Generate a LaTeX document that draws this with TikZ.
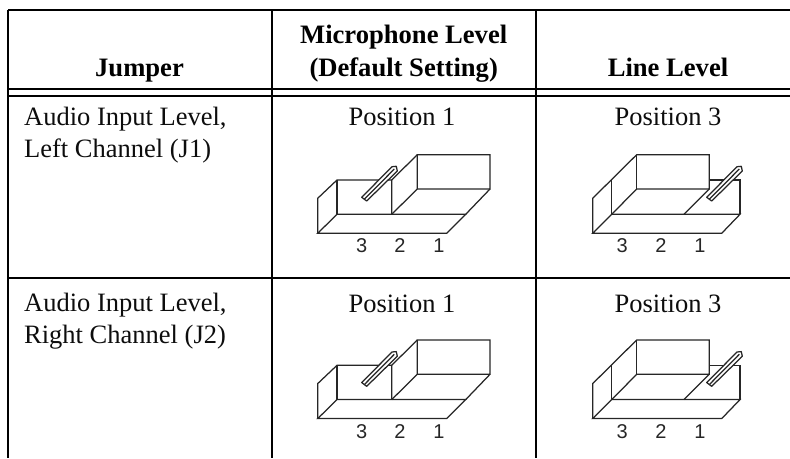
\documentclass[tikz,border=0pt]{standalone}
\usepackage{fontspec}
\setmainfont{Liberation Serif}
\newfontfamily\digitfont{Liberation Sans}
\tikzset{
  rule/.style={line width=2.2pt,black},
  fig/.style={line width=1.25pt,draw=black!85,line join=miter},
  pinbody/.style={line width=1.25pt,draw=black!85,fill=white,line join=round},
  txt/.style={inner sep=0pt,font=\fontsize{26.5}{30}\selectfont,anchor=base,text=black!95},
  head/.style={txt,font=\fontsize{26.6}{30}\selectfont\bfseries,text=black},
  txtl/.style={txt,anchor=base west},
  num/.style={inner sep=0pt,anchor=base,font=\fontsize{20}{24}\digitfont,text=black!85}
}
\newcommand{\pinshape}{%
  \draw[pinbody] (361.7,197.3) -- (392,166.7) -- (396.3,166.3) -- (397.3,171) -- (366.7,201) -- cycle;
  \draw[fig] (364.3,199.3) -- (394.3,169);
}
\newcommand{\figA}[1]{%
\begin{scope}[yshift=#1]
  \draw[fig] (317.7,233.3) -- (446.7,233.3) -- (465.7,214.3) -- (337,214.3) -- cycle;
  \draw[fig] (317.7,233.3) -- (317.7,198.3) -- (337,180) -- (391.7,180) -- (391.7,214.3);
  \draw[fig] (337,180) -- (337,214.3);
  \draw[fig] (391.7,214.3) -- (417.3,189) -- (490,189) -- (490,154.7) -- (417.3,154.7) -- (417.3,189);
  \draw[fig] (391.7,180) -- (417.3,154.7);
  \draw[fig] (465.7,214.3) -- (490,189);
  \pinshape
\end{scope}}
\newcommand{\figB}[1]{%
\begin{scope}[yshift=#1]
  \draw[fig] (592.7,233.3) -- (721.7,233.3) -- (740,214.3) -- (611.7,214.3) -- cycle;
  \draw[fig] (592.7,233.3) -- (592.7,198.3) -- (636.7,154.7) -- (709.3,154.7) -- (709.3,189) -- (636.7,189) -- (611.7,214.3);
  \draw[fig] (611.7,180) -- (611.7,214.3);
  \draw[fig] (636.7,154.7) -- (636.7,189);
  \draw[fig] (684,214.3) -- (709.3,189);
  \draw[fig] (709.3,180) -- (740,180) -- (740,214.3);
  \begin{scope}[xshift=345pt]\pinshape\end{scope}
\end{scope}}
\begin{document}
\begin{tikzpicture}[x=1pt,y=-1pt]
\useasboundingbox (0,0) rectangle (790,458);
% table rules
\draw[rule] (8,10) -- (790,10);
\draw[rule] (8,89) -- (790,89);
\draw[rule] (8,95.7) -- (790,95.7);
\draw[rule] (8,277.7) -- (790,277.7);
\draw[rule] (8,10) -- (8,458);
\draw[rule] (272,10) -- (272,458);
\draw[rule] (535.7,10) -- (535.7,458);
% header
\node[head] (hj) at (139.5,76.5) {Jumper};
\node[head] (hm1) at (403.7,43.5) {Microphone Level};
\node[head] (hm2) at (403.7,76) {(Default Setting)};
\node[head] (hl) at (668,76.5) {Line Level};
% first column
\node[txtl] (a1) at (24,125) {Audio Input Level,};
\node[txtl] (a2) at (24,157) {Left Channel (J1)};
\node[txtl] (b1) at (24,311.7) {Audio Input Level,};
\node[txtl] (b2) at (24,343.7) {Right Channel (J2)};
% positions
\node[txt] (p11) at (402,125) {Position 1};
\node[txt] (p13) at (668,125) {Position 3};
\node[txt] (p21) at (402,312) {Position 1};
\node[txt] (p23) at (668,312) {Position 3};
% figures
\figA{0pt}
\figB{0pt}
\figA{-185.3pt}
\figB{-185.3pt}
% digit labels
\node[num] (n113) at (361.7,252.7) {3};
\node[num] (n112) at (400,252.7) {2};
\node[num] (n111) at (439,252.7) {1};
\node[num] (n123) at (622.3,252.7) {3};
\node[num] (n122) at (661,252.7) {2};
\node[num] (n121) at (700,252.7) {1};
\node[num] (n213) at (361.7,438) {3};
\node[num] (n212) at (400,438) {2};
\node[num] (n211) at (439,438) {1};
\node[num] (n223) at (622.3,438) {3};
\node[num] (n222) at (661,438) {2};
\node[num] (n221) at (700,438) {1};
\end{tikzpicture}
\end{document}
